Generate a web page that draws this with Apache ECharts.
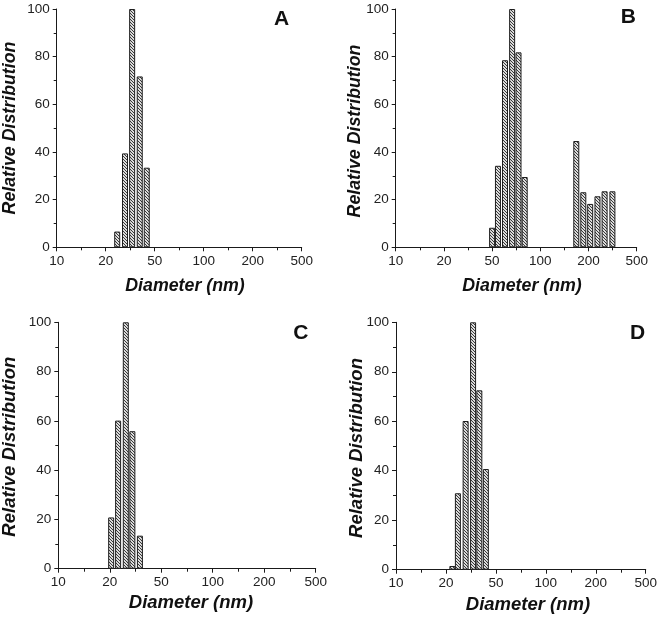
<!DOCTYPE html>
<html>
<head>
<meta charset="utf-8">
<script src="https://cdn.jsdelivr.net/npm/echarts@6/dist/echarts.min.js"></script>
<style>
html,body{margin:0;padding:0;background:#fff;}
#c{width:660px;height:620px;}
</style>
</head>
<body>
<div id="c"></div>
<script>
// Tick labels of the (equally spaced) diameter axis
const tickLabels = [10, 20, 50, 100, 200, 500];
const yTicks = [0, 20, 40, 60, 80, 100];

// Panel A
const aDiameter = [24.8, 28.7, 32.8, 37.8, 43.1];
const aValues   = [6.6, 39.4, 100, 71.7, 33.4];
// Panel B
const bDiameter = [50, 54.4, 60.2, 66.7, 73.1, 79.9, 167.8, 185.6, 206.5, 237.2, 271.6, 315];
const bValues   = [8.2, 34.2, 78.5, 100, 81.8, 29.5, 44.6, 23.1, 18.2, 21.4, 23.5, 23.5];
// Panel C
const cDiameter = [20.5, 23.2, 26.6, 29.9, 34.2];
const cValues   = [20.8, 60.1, 100, 55.8, 13.4];
// Panel D
const dDiameter = [22.5, 24.9, 28.7, 32.9, 36.9, 41.6];
const dValues   = [1.5, 30.9, 60.1, 100, 72.5, 40.7];

const panelLetters = ['A', 'B', 'C', 'D'];
const xTitle = 'Diameter (nm)';
const yTitle = 'Relative Distribution';

// map diameter to the axis position (ticks equally spaced, log between ticks)
function axisPos(d) {
  for (let i = 0; i < tickLabels.length - 1; i++) {
    if (d <= tickLabels[i + 1] || i === tickLabels.length - 2) {
      return i + Math.log(d / tickLabels[i]) / Math.log(tickLabels[i + 1] / tickLabels[i]);
    }
  }
}

// hatch pattern
const pc = document.createElement('canvas');
pc.width = 3; pc.height = 3;
const g = pc.getContext('2d');
g.fillStyle = '#dcdcdc';
g.fillRect(0, 0, 3, 3);
g.strokeStyle = '#3a3a3a';
g.lineWidth = 1;
g.beginPath();
g.moveTo(-1, -1); g.lineTo(4, 4);
g.moveTo(-1, 2); g.lineTo(1, 4);
g.moveTo(2, -1); g.lineTo(4, 1);
g.stroke();

const panels = [
  {d: aDiameter, v: aValues, grid: {left: 56.7, top: 9, width: 245, height: 238.3},
   yt: [10, 128], xt: [185, 286], lt: [281.5, 19.5], tf: 17.8},
  {d: bDiameter, v: bValues, grid: {left: 395.7, top: 9, width: 241, height: 238.3},
   yt: [355, 131], xt: [522, 286], lt: [628.3, 17.5], tf: 17.8},
  {d: cDiameter, v: cValues, grid: {left: 58.3, top: 322.3, width: 257.4, height: 246.4},
   yt: [10, 446.7], xt: [191, 603], lt: [300.8, 333.3], tf: 18.5},
  {d: dDiameter, v: dValues, grid: {left: 396, top: 322.3, width: 254, height: 247.4},
   yt: [356.7, 448], xt: [528, 605], lt: [637.5, 333.3], tf: 18.5}
];

const FONT = '"Liberation Sans", Arial, sans-serif';
const axisColor = '#1a1a1a';

const grids = [], xAxes = [], yAxes = [], series = [], graphics = [];
panels.forEach((p, i) => {
  grids.push(Object.assign({containLabel: false}, p.grid));
  xAxes.push({
    type: 'value', gridIndex: i, min: 0, max: tickLabels.length - 1, interval: 1,
    axisLine: {show: true, onZero: false, lineStyle: {color: axisColor, width: 1}},
    axisTick: {show: true, inside: false, length: 4, lineStyle: {color: axisColor}},
    minorTick: {show: true, splitNumber: 2, length: 3, lineStyle: {color: axisColor}},
    splitLine: {show: false},
    axisLabel: {margin: 7, color: '#222', fontFamily: FONT, fontSize: 13.5,
      formatter: v => String(tickLabels[Math.round(v)])}
  });
  yAxes.push({
    type: 'value', gridIndex: i, min: yTicks[0], max: yTicks[yTicks.length - 1], interval: 20,
    axisLine: {show: true, lineStyle: {color: axisColor, width: 1}},
    axisTick: {show: true, inside: false, length: 4, lineStyle: {color: axisColor}},
    minorTick: {show: true, splitNumber: 2, length: 3, lineStyle: {color: axisColor}},
    splitLine: {show: false},
    axisLabel: {margin: 7, color: '#222', fontFamily: FONT, fontSize: 13.5}
  });
  series.push({
    type: 'bar', xAxisIndex: i, yAxisIndex: i, barWidth: 6, barMinWidth: 6,
    data: p.d.map((d, k) => [axisPos(d), p.v[k]]),
    itemStyle: {color: {image: pc, repeat: 'repeat'}, borderColor: '#1e1e1e', borderWidth: 1},
    silent: true, animation: false
  });
  graphics.push({
    type: 'text', x: p.yt[0], y: p.yt[1], rotation: Math.PI / 2,
    style: {text: yTitle, font: 'italic bold ' + p.tf + 'px ' + FONT, fill: '#111',
      textAlign: 'center', textVerticalAlign: 'middle'}
  });
  graphics.push({
    type: 'text', x: p.xt[0], y: p.xt[1],
    style: {text: xTitle, font: 'italic bold ' + p.tf + 'px ' + FONT, fill: '#111',
      textAlign: 'center', textVerticalAlign: 'middle'}
  });
  graphics.push({
    type: 'text', x: p.lt[0], y: p.lt[1],
    style: {text: panelLetters[i], font: 'bold 21px ' + FONT, fill: '#111',
      textAlign: 'center', textVerticalAlign: 'middle'}
  });
});

const chart = echarts.init(document.getElementById('c'), null, {renderer: 'canvas'});
chart.setOption({
  animation: false,
  backgroundColor: '#fff',
  grid: grids, xAxis: xAxes, yAxis: yAxes, series: series, graphic: graphics
});
</script>
</body>
</html>
